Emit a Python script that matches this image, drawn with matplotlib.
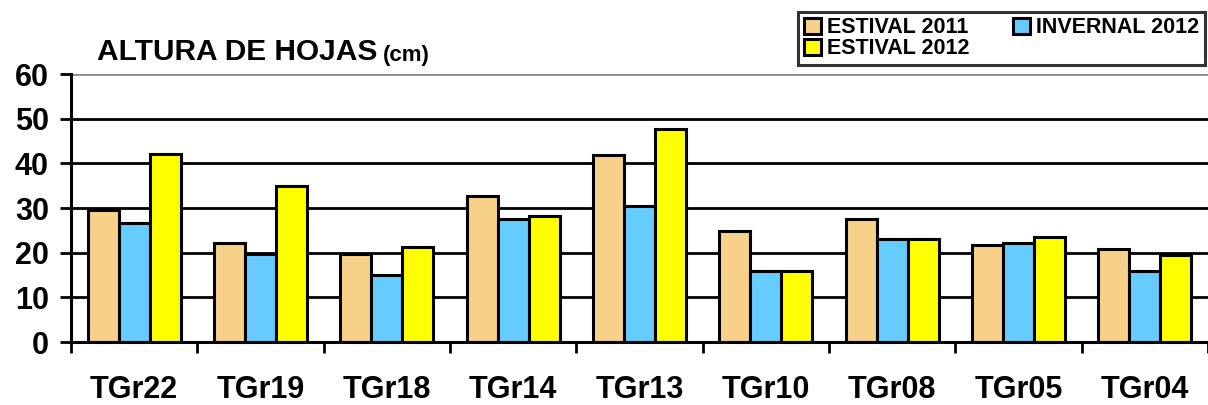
import numpy as np
import matplotlib
matplotlib.use("Agg")
import matplotlib.pyplot as plt

plt.rcParams['font.family'] = ['Liberation Sans', 'DejaVu Sans']
plt.rcParams['font.weight'] = 'bold'

# Data
categories = ['TGr22', 'TGr19', 'TGr18', 'TGr14', 'TGr13', 'TGr10', 'TGr08', 'TGr05', 'TGr04']
estival_2011 = [29.5, 22.2, 19.8, 32.7, 41.8, 24.9, 27.5, 21.7, 20.8]
invernal_2012 = [26.7, 19.7, 15.0, 27.5, 30.4, 15.9, 23.0, 22.2, 16.0]
estival_2012 = [42.0, 34.9, 21.2, 28.3, 47.7, 15.9, 23.0, 23.6, 19.5]
yticks = [0, 10, 20, 30, 40, 50, 60]

series = [('ESTIVAL 2011', estival_2011, '#F7D08A'),
          ('INVERNAL 2012', invernal_2012, '#66CCFF'),
          ('ESTIVAL 2012', estival_2012, '#FFFF00')]

fig = plt.figure(figsize=(12.08, 4.05), dpi=100)
ax = fig.add_axes([71 / 1208, 1 - 342 / 405, 1 - 71 / 1208, (342 - 74) / 405])

x = np.arange(len(categories)) + 0.5
w = 0.245
handles = []
for j, (name, vals, col) in enumerate(series):
    b = ax.bar(x + (j - 1) * w, vals, w, color=col, edgecolor='black',
               linewidth=2.2, label=name, zorder=3)
    handles.append(b)

ax.set_xlim(0, len(categories))
ax.set_ylim(0, 60)
ax.set_yticks(yticks)
ax.set_yticklabels([str(v) for v in yticks], fontsize=22, fontweight='bold')
ax.tick_params(axis='y', length=8, width=2, direction='out', pad=8)

ax.set_xticks(x)
ax.set_xticklabels(categories, fontsize=22, fontweight='bold')
ax.set_xticks(np.arange(len(categories) + 1), minor=True)
ax.tick_params(axis='x', which='major', length=0, pad=24)
ax.tick_params(axis='x', which='minor', length=8, width=2, direction='out')

ax.grid(axis='y', color='black', linewidth=2, zorder=0)
ax.set_axisbelow(True)
for gl, v in zip(ax.get_ygridlines(), yticks):
    if v == 60:
        gl.set_color('#8c8c8c')

for s in ['top', 'right']:
    ax.spines[s].set_visible(False)
for s in ['left', 'bottom']:
    ax.spines[s].set_linewidth(2.2)
    ax.spines[s].set_zorder(4)

# Title
t = fig.text(97 / 1208, 1 - 60 / 405, 'ALTURA DE HOJAS', fontsize=21.5,
             fontweight='bold', va='baseline', ha='left')
fig.canvas.draw()
bb = t.get_window_extent()
fig.text((bb.x1 + 5) / 1208, 1 - 61 / 405, '(cm)', fontsize=16,
         fontweight='bold', va='baseline', ha='left')

# Legend: ESTIVAL 2011 / ESTIVAL 2012 in first column, INVERNAL 2012 in second
leg = fig.legend([handles[0], handles[2], handles[1]],
                 ['ESTIVAL 2011', 'ESTIVAL 2012', 'INVERNAL 2012'],
                 ncol=2, loc='upper right',
                 bbox_to_anchor=(1205 / 1208, 1 - 12 / 405),
                 prop={'size': 15.5, 'weight': 'bold'},
                 frameon=True, fancybox=False, borderpad=0.25,
                 handlelength=0.8, handleheight=0.8, handletextpad=0.3,
                 labelspacing=0.0, columnspacing=2.0, borderaxespad=0)
leg.get_frame().set_edgecolor('black')
leg.get_frame().set_linewidth(2.2)

fig.savefig('out.png', dpi=100)
